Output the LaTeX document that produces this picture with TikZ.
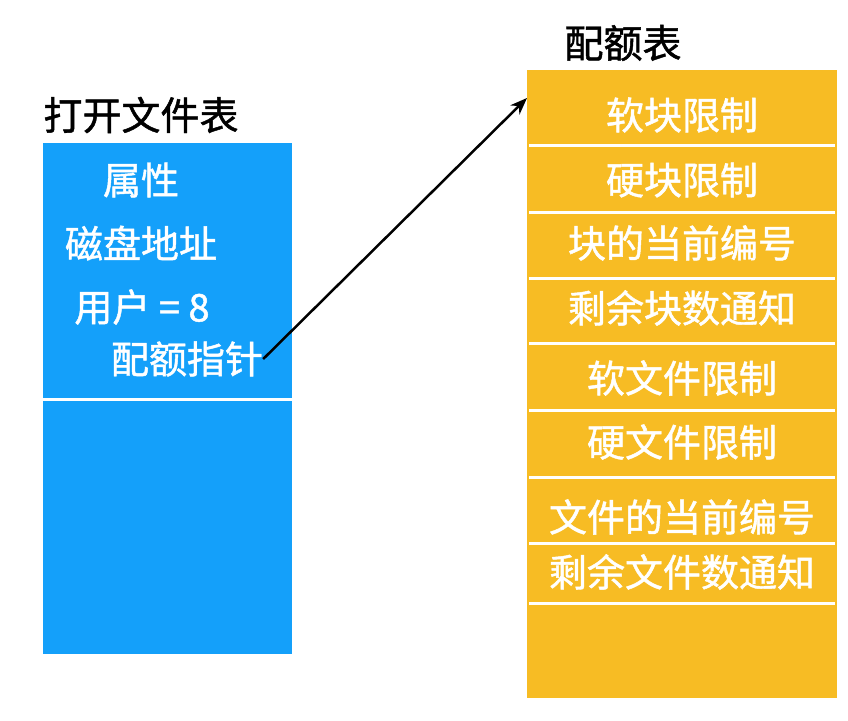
\documentclass[tikz,border=0pt]{standalone}
\usepackage{fontspec}
\setmainfont{Noto Sans CJK SC}[FakeBold=1.2]
\usetikzlibrary{arrows.meta}
\definecolor{boxblue}{RGB}{20,160,250}
\definecolor{boxyellow}{RGB}{247,188,36}
\tikzset{
  ttl/.style={font=\fontsize{39}{40}\selectfont, text=black, inner sep=0pt},
  bt/.style={font=\fontsize{38}{40}\selectfont, text=white, inner sep=0pt},
  sep/.style={draw=white, line width=3pt},
  link/.style={draw=black, line width=2.5pt, -{Stealth[length=17pt,width=13pt]}}
}
\begin{document}
\begin{tikzpicture}[x=1pt,y=-1pt]
\useasboundingbox (0,0) rectangle (848,720);
% titles
\node[ttl] (t1) at (141,115) {打开文件表};
\node[ttl] (t2) at (623,43) {配额表};
% blue box
\fill[boxblue] (43,143) rectangle (292,654);
\draw[sep] (43,399) -- (292,399);
\node[bt] (attr) at (141,180) {属性};
\node[bt] (disk) at (141,243) {磁盘地址};
\node[bt] (user) at (142,307) {用户 = 8};
\node[bt] (ptr) at (187,359) {配额指针};
% yellow box
\fill[boxyellow] (527,70) rectangle (837,698);
\foreach \yy in {145,212,278,343,410,477,543,603}
  \draw[sep] (529,\yy) -- (835,\yy);
\node[bt] (q1) at (682,115) {软块限制};
\node[bt] (q2) at (682,180) {硬块限制};
\node[bt] (q3) at (682,243) {块的当前编号};
\node[bt] (q4) at (682,308) {剩余块数通知};
\node[bt] (q5) at (682,378) {软文件限制};
\node[bt] (q6) at (682,442) {硬文件限制};
\node[bt] (q7) at (682,517) {文件的当前编号};
\node[bt] (q8) at (682,572) {剩余文件数通知};
% arrow
\coordinate (tip) at (527,98);
\draw[link] (ptr.east) -- (tip);
\end{tikzpicture}
\end{document}
